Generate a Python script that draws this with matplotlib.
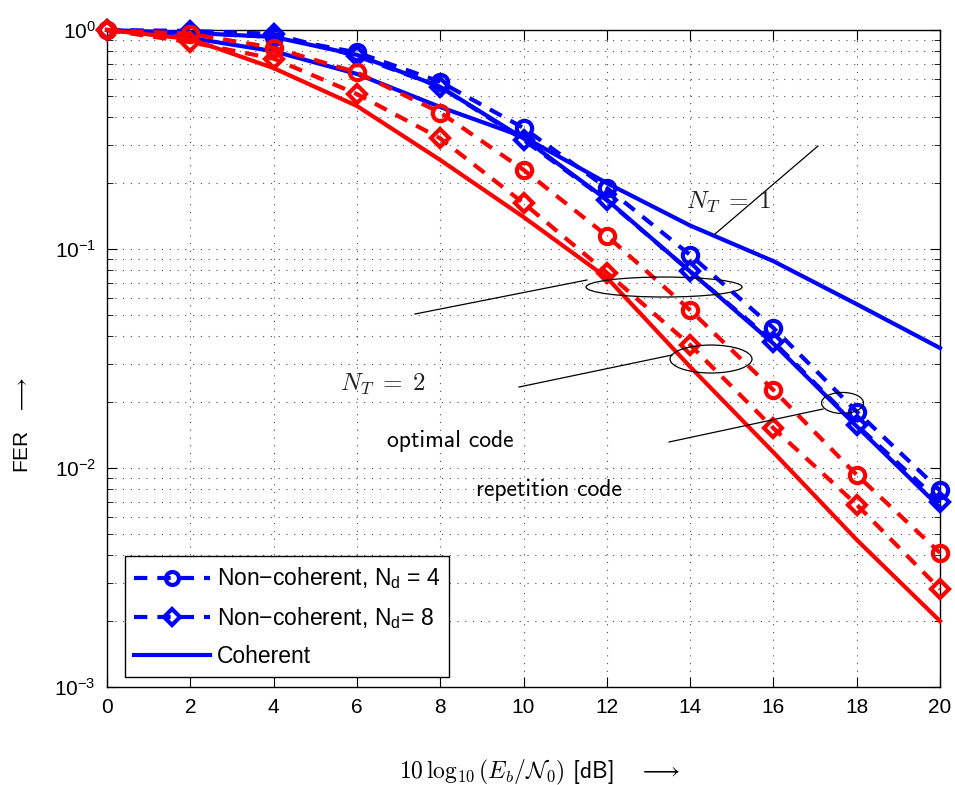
import numpy as np
import matplotlib.pyplot as plt
from matplotlib.patches import Ellipse
from matplotlib.ticker import LogLocator, NullFormatter

plt.rcParams['font.family'] = ['Liberation Sans', 'DejaVu Sans']
plt.rcParams['mathtext.fontset'] = 'cm'

# Eb/N0 in dB
snr = [0, 2, 4, 6, 8, 10, 12, 14, 16, 18, 20]

# N_T = 1 (blue)
nc4_nt1 = [1.0, 0.97, 0.93, 0.79, 0.58, 0.357, 0.19, 0.094, 0.0436, 0.0181, 0.0079]
nc8_nt1 = [1.0, 0.99, 0.96, 0.76, 0.55, 0.315, 0.167, 0.079, 0.0377, 0.0157, 0.0070]
coh_a_nt1 = [1.0, 0.97, 0.93, 0.77, 0.55, 0.32, 0.168, 0.079, 0.037, 0.0155, 0.0066]
coh_b_nt1 = [1.0, 0.92, 0.80, 0.63, 0.445, 0.325, 0.20, 0.128, 0.088, 0.056, 0.0353]

# N_T = 2 (red)
nc4_nt2 = [1.0, 0.96, 0.83, 0.64, 0.42, 0.23, 0.115, 0.0526, 0.0227, 0.0093, 0.0041]
nc8_nt2 = [1.0, 0.88, 0.74, 0.51, 0.32, 0.162, 0.078, 0.0365, 0.0152, 0.0068, 0.0028]
coh_nt2 = [1.0, 0.91, 0.67, 0.45, 0.255, 0.14, 0.074, 0.029, 0.0118, 0.0047, 0.0020]

legend_labels = ['Non\u2212coherent, $\\mathregular{N_d}$ = 4',
                 'Non\u2212coherent, $\\mathregular{N_d}$= 8',
                 'Coherent']

dash = (0, (3.2, 2.4))
lw = 3
ms = 11

fig = plt.figure(figsize=(9.55, 7.85), dpi=100)
ax = fig.add_axes([107/955, 1-687/785, 833/955, 657/785])

# blue curves
h1, = ax.semilogy(snr, nc4_nt1, color='blue', ls=dash, lw=lw, marker='o', ms=ms, mew=3,
                  mfc='none', clip_on=False)
h2, = ax.semilogy(snr, nc8_nt1, color='blue', ls=dash, lw=lw, marker='D', ms=ms-2, mew=3,
                  mfc='none', clip_on=False)
h3, = ax.semilogy(snr, coh_a_nt1, color='blue', lw=lw, clip_on=False)
ax.semilogy(snr, coh_b_nt1, color='blue', lw=lw, clip_on=False)

# red curves
ax.semilogy(snr, nc4_nt2, color='red', ls=dash, lw=lw, marker='o', ms=ms, mew=3,
            mfc='none', clip_on=False)
ax.semilogy(snr, nc8_nt2, color='red', ls=dash, lw=lw, marker='D', ms=ms-2, mew=3,
            mfc='none', clip_on=False)
ax.semilogy(snr, coh_nt2, color='red', lw=lw, clip_on=False)

ax.set_xlim(0, 20)
ax.set_ylim(1e-3, 1)
ax.set_xticks(range(0, 21, 2))
ax.set_yticks([1e-3, 1e-2, 1e-1, 1])
ax.set_yticklabels(['$\\mathregular{10^{-3}}$', '$\\mathregular{10^{-2}}$',
                    '$\\mathregular{10^{-1}}$', '$\\mathregular{10^{0}}$'])
ax.yaxis.set_minor_locator(LogLocator(base=10, subs=np.arange(2, 10)))
ax.yaxis.set_minor_formatter(NullFormatter())
ax.tick_params(which='both', direction='in', top=True, right=True, labelsize=15, pad=8)
ax.tick_params(which='major', length=7)
ax.tick_params(which='minor', length=4)
for s in ax.spines.values():
    s.set_linewidth(1)
    s.set_zorder(1)

grid_style = dict(color='k', ls=(0, (1, 6)), lw=0.8, alpha=0.7)
ax.grid(True, which='major', **grid_style)
ax.grid(True, which='minor', axis='y', **grid_style)

# annotations (axes fraction)
ell = [((0.6687, 0.6088), 0.1873, 0.0304),
       ((0.7251, 0.4992), 0.0984, 0.0426),
       ((0.8830, 0.4323), 0.0504, 0.0320)]
for c, w, h in ell:
    ax.add_patch(Ellipse(c, w, h, transform=ax.transAxes, fill=False, ec='k', lw=0.9, zorder=5))

pointers = [((0.7299, 0.8535), (0.6895, 0.8234)),
            ((0.3697, 0.5762), (0.5677, 0.6195)),
            ((0.4946, 0.6783), (0.4566, 0.5053)),
            ((0.6747, 0.8595), (0.3729, 0.4231))]
for xs, ys in pointers:
    ax.plot(xs, ys, color='k', lw=0.9, transform=ax.transAxes, zorder=5)

ax.text(0.7455, 0.7382, '$N_T\\;=\\;1$', transform=ax.transAxes, fontsize=18,
        ha='center', va='center', color='#222222', zorder=6)
ax.text(0.3313, 0.4612, '$N_T\\;=\\;2$', transform=ax.transAxes, fontsize=18,
        ha='center', va='center', color='#222222')
ax.text(0.4118, 0.3744, 'optimal code', transform=ax.transAxes, fontsize=17,
        family='cmss10', ha='center', va='center')
ax.text(0.5306, 0.2998, 'repetition code', transform=ax.transAxes, fontsize=17,
        family='cmss10', ha='center', va='center')

leg = ax.legend([h1, h2, h3], legend_labels, loc='lower left',
                bbox_to_anchor=(0.0216, 0.0152), borderaxespad=0, fontsize=16.5,
                handlelength=3.3, labelspacing=0.6, fancybox=False, framealpha=1,
                edgecolor='k', borderpad=0.4, handletextpad=0.3, markerscale=0.85)
leg.get_frame().set_linewidth(1)

fig.text(540/955, 1-772/785, '$10\\,\\log_{10}(E_b/\\mathcal{N}_0)$ [dB]   $\\longrightarrow$',
         family='cmss10', fontsize=17, ha='center', va='center')
fig.text(22/955, 1-425/785, 'FER   $\\longrightarrow$', rotation=90, fontsize=15,
         ha='center', va='center')

fig.savefig('out.png', dpi=100)
